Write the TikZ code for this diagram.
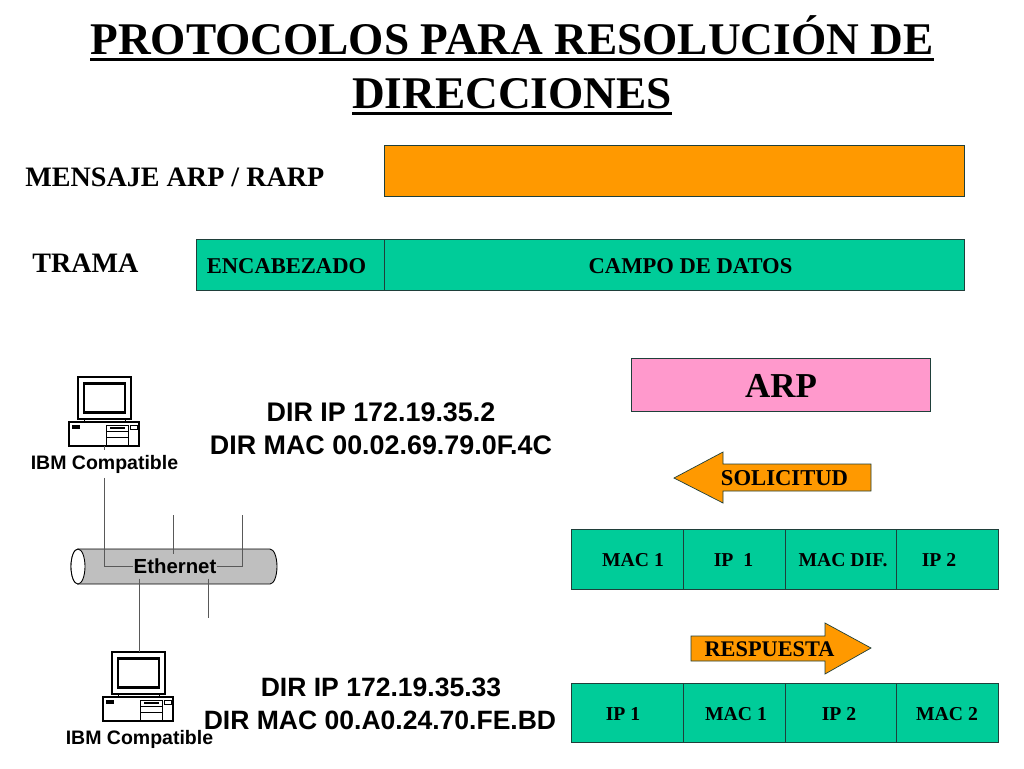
\documentclass[tikz,border=0pt]{standalone}
\usepackage{fontspec}
\setmainfont{Liberation Serif}
\setsansfont{Liberation Sans}
\usetikzlibrary{calc,shapes.geometric}
\definecolor{tealbox}{HTML}{00CC99}
\definecolor{orangebox}{HTML}{FF9900}
\definecolor{pinkbox}{HTML}{FF99CC}
\definecolor{boxline}{HTML}{1F3F3A}
\def\titleline#1{\setbox0=\hbox{#1}\rlap{\rule[-4pt]{\wd0}{1.7pt}}\box0}
\tikzset{
	cell/.style={draw=boxline, line width=0.4pt},
	serifbf/.style={font=\bfseries\fontsize{#1}{#1}\selectfont, inner sep=0pt},
	celltext/.style={serifbf=#1, anchor=base},
	sansbf/.style={font=\sffamily\bfseries\fontsize{#1}{#1}\selectfont, inner sep=0pt},
	pclabel/.style={sansbf=#1, inner ysep=2.5pt},
	wire/.style={draw=black!65, line width=0.4pt}
}
% monitor and base unit, (#1,#2) is the top left corner of the base
\def\pcbox(#1,#2){
	\draw[line width=0.6pt, fill=white] (#1+9, #2-45) rectangle (#1+62, #2-3);
	\draw[line width=1.7pt, fill=white] (#1+15, #2-39) rectangle (#1+56, #2-10);
	\draw[line width=0.5pt] (#1+15, #2-3) -- (#1+15, #2) (#1+56, #2-3) -- (#1+56, #2);
	\draw[line width=0.6pt, fill=white] (#1, #2) rectangle (#1+70, #2+24);
	\draw[fill=black] (#1+3, #2+3.5) rectangle (#1+10, #2+6);
	\draw[line width=0.3pt] (#1+37, #2+3) rectangle (#1+59, #2+23);
	\draw[line width=0.3pt] (#1+37, #2+9) -- (#1+59, #2+9) (#1+37, #2+15) -- (#1+59, #2+15);
	\draw[line width=0.6pt] (#1+41, #2+6) -- (#1+56, #2+6);
	\draw[line width=0.3pt] (#1+61, #2+3) rectangle (#1+68, #2+7);
}

\begin{document}
\begin{tikzpicture}[x=0.02cm, y=-0.02cm]
	\useasboundingbox (0, 0) rectangle (1024, 768);

	%%%%% TITLE %%%%%
	\node[serifbf=25.8pt, anchor=base] (title1) at (512, 54) {\titleline{PROTOCOLOS PARA RESOLUCIÓN DE}};
	\node[serifbf=25.8pt, anchor=base] (title2) at (512, 108) {\titleline{DIRECCIONES}};

	%%%%% FRAMES %%%%%
	\node[serifbf=16pt, anchor=west] (mensaje) at (25, 177) {MENSAJE ARP / RARP};
	\node[serifbf=16pt, anchor=west] (trama) at (32, 263) {TRAMA};
	\draw[cell, fill=orangebox] (384, 145) rectangle (964.5, 196);
	\draw[cell, fill=tealbox] (196, 239) rectangle (964.5, 290);
	\draw[cell] (384, 239) -- (384, 290);
	\node[serifbf=12.85pt] (encabezado) at (286.5, 266) {ENCABEZADO};
	\node[serifbf=12.85pt] (campo) at (690.5, 266) {CAMPO DE DATOS};

	\draw[cell, fill=pinkbox] (631, 358) rectangle (930, 411);
	\node[serifbf=19.9pt] (arp) at (781, 386) {ARP};

	%%%%% NETWORK %%%%%
	\draw[line width=0.5pt, fill=black!25] (78, 549) -- (270, 549) arc (-90:90:7 and 17.5) -- (78, 584) arc (90:270:7 and 17.5) -- cycle;
	\draw[line width=0.5pt, fill=white] (78, 566.5) ellipse (7 and 17.5);

	\pcbox(69,422)
	\pcbox(103,697)

	\node[pclabel=11.1pt] (ibm1) at (104.5, 464) {IBM Compatible};
	\node[pclabel=11.1pt] (ibm2) at (139.5, 739) {IBM Compatible};
	\node[pclabel=11.6pt] (ethernet) at (175, 566.5) {Ethernet};

	\coordinate (pc1) at (104, 446);
	\coordinate (pc2) at (139.5, 652);
	\coordinate (tap1) at (173, 515);
	\coordinate (tap2) at (242, 515);
	\coordinate (tap3) at (208, 618);

	\draw[wire] (pc1) -- (ibm1.north -| pc1);
	\draw[wire] (ibm1.south -| pc1) |- (ethernet.west);
	\draw[wire] (ethernet.east) -| (tap2);
	\draw[wire] (tap1) -- (ethernet.north -| tap1);
	\draw[wire] (ethernet.south -| pc2) -- (pc2);
	\draw[wire] (ethernet.south -| tap3) -- (tap3);

	\node[sansbf=15.3pt] (ip1) at (381, 412) {DIR IP 172.19.35.2};
	\node[sansbf=15.3pt] (mac1) at (381, 445) {DIR MAC 00.02.69.79.0F.4C};
	\node[sansbf=15.1pt] (ip2) at (381, 687) {DIR IP 172.19.35.33};
	\node[sansbf=15.1pt] (mac2) at (380, 720) {DIR MAC 00.A0.24.70.FE.BD};

	%%%%% ARROWS %%%%%
	\draw[cell, fill=orangebox] (674, 478) -- (723, 452) -- (723, 464) -- (871, 464) -- (871, 491) -- (723, 491) -- (723, 503) -- cycle;
	\node[celltext=12.9pt] (solicitud) at (784.5, 485.5) {SOLICITUD};
	\draw[cell, fill=orangebox] (871, 648) -- (825, 623) -- (825, 636) -- (691, 636) -- (691, 661) -- (825, 661) -- (825, 674) -- cycle;
	\node[celltext=12.7pt] (respuesta) at (769.5, 656.5) {RESPUESTA};

	%%%%% CELLS %%%%%
	\draw[cell, fill=tealbox] (571, 529) rectangle (998.5, 589);
	\draw[cell] (683, 529) -- (683, 589);
	\draw[cell] (785, 529) -- (785, 589);
	\draw[cell] (896, 529) -- (896, 589);
	\node[celltext=11.2pt] (req1) at (633, 566) {MAC 1};
	\node[celltext=11.2pt] (req2) at (733.5, 566) {IP~~1};
	\node[celltext=11.2pt] (req3) at (843, 566) {MAC DIF.};
	\node[celltext=11.2pt] (req4) at (939, 566) {IP 2};

	\draw[cell, fill=tealbox] (571, 683) rectangle (998.5, 742);
	\draw[cell] (683, 683) -- (683, 742);
	\draw[cell] (785, 683) -- (785, 742);
	\draw[cell] (896, 683) -- (896, 742);
	\node[celltext=11.2pt] (rep1) at (623, 720) {IP 1};
	\node[celltext=11.2pt] (rep2) at (736, 720) {MAC 1};
	\node[celltext=11.2pt] (rep3) at (839, 720) {IP 2};
	\node[celltext=11.2pt] (rep4) at (947, 720) {MAC 2};
\end{tikzpicture}
\end{document}
